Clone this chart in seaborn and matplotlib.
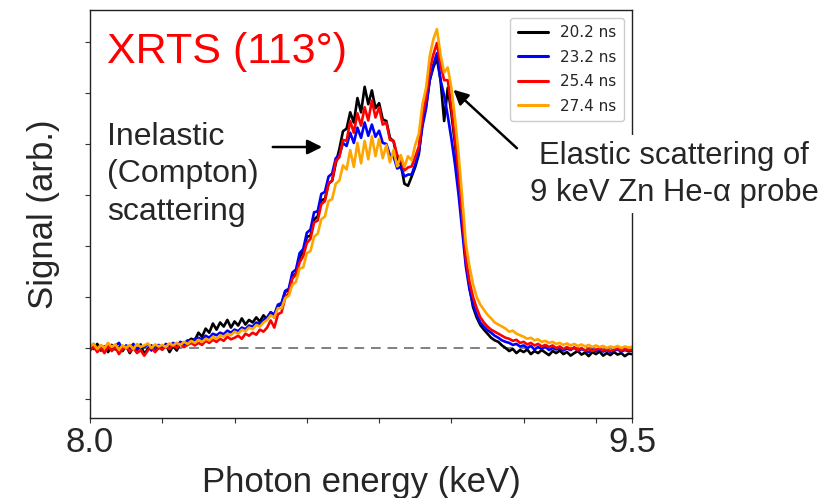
import numpy as np
import pandas as pd
import matplotlib
matplotlib.use("Agg")
import matplotlib.pyplot as plt
import seaborn as sns
from matplotlib.ticker import FixedLocator, NullFormatter

# Photon energy grid (keV), 10 eV steps
energy = np.linspace(8.0, 9.5, 151)

# Scattered signal for each delay (arb. units, baseline = 0)
sig_20_2 = [
    0.05, -0.02, 0.08, -0.05, 0.03, -0.08, 0.06, -0.03, 0.02, -0.06,
    0.04, -0.10, 0.02, -0.04, 0.07, -0.12, -0.02, 0.05, -0.06, 0.03,
    -0.03, 0.06, -0.08, 0.04, -0.05, 0.09, 0.02, 0.12, 0.18, 0.15,
    0.30, 0.22, 0.38, 0.30, 0.48, 0.36, 0.50, 0.42, 0.55, 0.40,
    0.52, 0.44, 0.58, 0.46, 0.55, 0.50, 0.60, 0.52, 0.64, 0.56,
    0.70, 0.60, 0.82, 0.86, 1.10, 1.14, 1.40, 1.46, 1.78, 1.88,
    2.18, 2.20, 2.52, 2.58, 2.90, 2.92, 3.22, 3.28, 3.62, 3.90,
    4.25, 4.30, 4.62, 4.42, 4.90, 4.62, 5.12, 4.78, 5.05, 4.70,
    4.80, 4.48, 4.45, 4.12, 4.05, 3.72, 3.60, 3.22, 3.18, 3.36,
    3.55, 3.80, 4.45, 4.75, 5.25, 5.50, 5.68, 5.25, 4.45, 5.10,
    4.60, 4.00, 3.20, 2.50, 1.70, 1.20, 0.80, 0.60, 0.45, 0.36,
    0.28, 0.20, 0.15, 0.12, 0.05, 0.00, -0.06, -0.02, -0.10, -0.04,
    -0.08, -0.03, -0.12, -0.06, -0.10, -0.04, -0.09, -0.14, -0.06, -0.10,
    -0.05, -0.12, -0.08, -0.15, -0.10, -0.06, -0.13, -0.09, -0.16, -0.08,
    -0.12, -0.07, -0.15, -0.10, -0.14, -0.08, -0.13, -0.10, -0.16, -0.11, -0.12,
]
sig_23_2 = [
    0.02, 0.08, -0.03, 0.05, 0.00, 0.07, -0.04, 0.04, 0.10, -0.02,
    0.05, 0.00, 0.08, -0.03, 0.04, 0.02, 0.07, -0.05, 0.03, 0.06,
    0.00, 0.08, 0.03, 0.10, 0.05, 0.12, 0.08, 0.15, 0.10, 0.18,
    0.20, 0.16, 0.24, 0.20, 0.28, 0.25, 0.30, 0.27, 0.34, 0.30,
    0.36, 0.33, 0.40, 0.37, 0.44, 0.42, 0.50, 0.47, 0.55, 0.60,
    0.70, 0.66, 0.85, 0.88, 1.12, 1.16, 1.48, 1.54, 1.86, 1.94,
    2.26, 2.32, 2.66, 2.68, 3.02, 3.06, 3.36, 3.42, 3.72, 3.78,
    4.02, 3.96, 4.22, 4.02, 4.32, 4.12, 4.42, 4.16, 4.38, 4.14,
    4.26, 4.02, 4.00, 3.78, 3.76, 3.52, 3.55, 3.36, 3.40, 3.40,
    3.60, 3.85, 4.35, 4.70, 5.25, 5.55, 5.78, 5.25, 4.95, 4.55,
    4.10, 3.60, 3.00, 2.30, 1.60, 1.15, 0.85, 0.65, 0.50, 0.42,
    0.35, 0.30, 0.24, 0.20, 0.15, 0.12, 0.10, 0.06, 0.08, 0.03,
    0.05, 0.00, 0.04, -0.03, 0.02, -0.02, 0.03, -0.04, 0.00, -0.03,
    0.00, -0.05, -0.01, -0.04, 0.01, -0.06, -0.02, -0.05, -0.08, -0.03,
    -0.06, -0.02, -0.07, -0.04, -0.08, -0.05, -0.03, -0.07, -0.04, -0.06, -0.05,
]
sig_25_4 = [
    -0.05, 0.03, -0.08, 0.00, -0.10, 0.04, -0.06, 0.02, -0.12, -0.02,
    0.03, -0.07, 0.00, -0.10, -0.04, -0.15, -0.05, 0.02, -0.08, 0.00,
    -0.03, 0.04, -0.02, 0.06, 0.00, 0.08, 0.02, 0.06, 0.10, 0.05,
    0.10, 0.06, 0.14, 0.10, 0.16, 0.12, 0.18, 0.14, 0.22, 0.17,
    0.20, 0.24, 0.18, 0.28, 0.24, 0.30, 0.26, 0.36, 0.32, 0.40,
    0.54, 0.40, 0.66, 0.70, 0.98, 1.08, 1.36, 1.44, 1.68, 1.80,
    2.06, 2.14, 2.46, 2.50, 2.82, 2.88, 3.22, 3.28, 3.66, 3.74,
    4.08, 4.06, 4.45, 4.22, 4.60, 4.36, 4.72, 4.46, 4.85, 4.52,
    4.72, 4.38, 4.42, 4.08, 4.06, 3.78, 3.70, 3.48, 3.54, 3.56,
    3.75, 3.95, 4.55, 4.90, 5.45, 5.75, 5.98, 5.55, 5.25, 5.25,
    4.70, 4.10, 3.40, 2.60, 1.75, 1.30, 1.00, 0.78, 0.60, 0.50,
    0.42, 0.36, 0.32, 0.28, 0.24, 0.20, 0.18, 0.14, 0.16, 0.10,
    0.12, 0.07, 0.10, 0.05, 0.08, 0.03, 0.06, 0.02, 0.05, 0.00,
    0.03, -0.02, 0.02, -0.03, 0.01, -0.04, 0.00, -0.05, -0.02, -0.06,
    -0.03, -0.01, -0.05, -0.02, -0.06, -0.03, -0.01, -0.05, -0.02, -0.04, -0.03,
]
sig_27_4 = [
    0.03, 0.08, -0.02, 0.06, 0.00, 0.10, 0.02, 0.07, -0.03, 0.05,
    0.00, 0.06, -0.02, 0.08, 0.02, 0.05, 0.09, 0.00, 0.07, 0.03,
    0.06, 0.02, 0.09, 0.05, 0.10, 0.06, 0.12, 0.08, 0.14, 0.10,
    0.16, 0.12, 0.18, 0.15, 0.22, 0.18, 0.25, 0.22, 0.28, 0.25,
    0.32, 0.28, 0.36, 0.33, 0.40, 0.37, 0.45, 0.42, 0.50, 0.55,
    0.64, 0.60, 0.78, 0.78, 0.98, 1.02, 1.24, 1.30, 1.56, 1.58,
    1.86, 1.90, 2.18, 2.24, 2.52, 2.58, 2.88, 2.92, 3.22, 3.28,
    3.58, 3.50, 3.88, 3.55, 4.02, 3.62, 4.06, 3.70, 4.15, 3.76,
    4.10, 3.72, 3.98, 3.64, 3.88, 3.56, 3.78, 3.55, 3.76, 3.68,
    3.98, 4.20, 4.78, 5.10, 5.72, 6.05, 6.25, 5.75, 5.40, 5.50,
    5.10, 4.50, 3.80, 2.95, 2.05, 1.60, 1.25, 1.00, 0.85, 0.75,
    0.65, 0.58, 0.50, 0.46, 0.42, 0.38, 0.32, 0.34, 0.28, 0.25,
    0.22, 0.18, 0.20, 0.15, 0.17, 0.12, 0.14, 0.10, 0.12, 0.08,
    0.10, 0.06, 0.09, 0.05, 0.08, 0.04, 0.07, 0.03, 0.06, 0.02,
    0.05, 0.02, 0.04, 0.00, 0.03, 0.01, 0.04, 0.00, 0.03, 0.01, 0.02,
]

delays = ["20.2 ns", "23.2 ns", "25.4 ns", "27.4 ns"]
colors = ["black", "blue", "red", "orange"]
x_tick_labels = ["8.0", "9.5"]

df = pd.concat(
    [pd.DataFrame({"energy": energy, "signal": s, "delay": d})
     for s, d in zip([sig_20_2, sig_23_2, sig_25_4, sig_27_4], delays)],
    ignore_index=True,
)

sns.set_theme(style="ticks")
plt.rcParams["font.family"] = ["Liberation Sans", "DejaVu Sans"]
narrow = ["Liberation Sans Narrow", "Liberation Sans", "DejaVu Sans"]

fig = plt.figure(figsize=(8.2, 4.98), dpi=100)
ax = fig.add_axes([0.1098, 0.1606, 0.6610, 0.8194])

ax.axhline(0, color="#808080", lw=1.4, ls=(0, (5, 3.5)), zorder=1)
sns.lineplot(data=df, x="energy", y="signal", hue="delay", hue_order=delays,
             palette=colors, estimator=None, lw=1.9, ax=ax, zorder=2)

ax.set_xlim(8.0, 9.5)
ax.set_ylim(-1.373, 6.627)
ax.set_xticks([8.0, 9.5])
ax.set_xticklabels(x_tick_labels, fontsize=25, family=narrow)
ax.xaxis.set_minor_locator(FixedLocator([8.2, 8.4, 8.6, 8.8, 9.0, 9.2, 9.4]))
ax.xaxis.set_minor_formatter(NullFormatter())
ax.set_yticks(range(-1, 7))
ax.set_yticklabels([])
ax.tick_params(axis="both", which="both", length=3.5, width=0.8, color="#333333", pad=2)
for sp in ax.spines.values():
    sp.set_color("#222222")
    sp.set_linewidth(1.0)

ax.set_xlabel("Photon energy (keV)", fontsize=25, family=narrow, labelpad=5)
ax.set_ylabel("Signal (arb.)", fontsize=25, labelpad=16)

leg = ax.legend(loc="upper right", handlelength=2.0, handletextpad=0.8,
                labelspacing=0.62, borderpad=0.5, frameon=True,
                edgecolor="#cccccc", fancybox=True, framealpha=1.0,
                prop={"family": "DejaVu Sans", "size": 11})
for line in leg.get_lines():
    line.set_linewidth(2.2)

fig.text(107 / 820, 1 - 32 / 498, "XRTS (113°)", color="red", fontsize=31,
         ha="left", va="top")

fig.text(107 / 820, 1 - 122 / 498, "Inelastic\n(Compton)\nscattering",
         fontsize=23, ha="left", va="top", linespacing=1.32)
ax.annotate("", xy=(8.65, 3.94), xytext=(8.498, 3.94),
            arrowprops=dict(arrowstyle="-|>", color="black", lw=1.8,
                            mutation_scale=22))

fig.text(674 / 820, 1 - 141 / 498, "Elastic scattering of\n9 keV Zn He-α probe",
         fontsize=22.3, ha="center", va="top", multialignment="center",
         linespacing=1.3,
         bbox=dict(facecolor="white", edgecolor="none", pad=4))
ax.annotate("", xy=(9.0, 5.1), xytext=(9.187, 3.88),
            arrowprops=dict(arrowstyle="-|>", color="black", lw=1.8,
                            mutation_scale=22), annotation_clip=False)

fig.savefig("out.png", dpi=100)
